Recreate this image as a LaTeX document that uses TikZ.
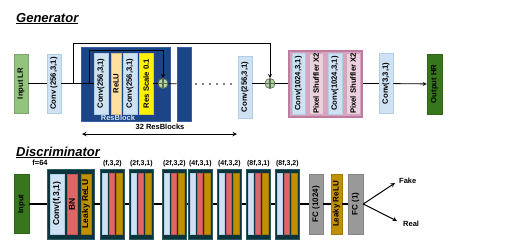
\documentclass[tikz,border=0pt]{standalone}
\usepackage{fontspec}
\setmainfont{Liberation Sans}
\usetikzlibrary{calc}
\definecolor{convblue}{HTML}{CFE2F3}
\definecolor{convedge}{HTML}{B4CDE6}
\definecolor{ingreen}{HTML}{93C47D}
\definecolor{outgreen}{HTML}{38761D}
\definecolor{rbblue}{HTML}{1C4587}
\definecolor{rbedge}{HTML}{3A5F9C}
\definecolor{relucol}{HTML}{FFE0A0}
\definecolor{pinkfill}{HTML}{D5A6BD}
\definecolor{pinkedge}{HTML}{C27BA0}
\definecolor{shufcol}{HTML}{EAD1DC}
\definecolor{plusgreen}{HTML}{B6D7A8}
\definecolor{dteal}{HTML}{0C343D}
\definecolor{dedge}{HTML}{2D5963}
\definecolor{bnred}{HTML}{E06666}
\definecolor{goldcol}{HTML}{BF9000}
\definecolor{fcgray}{HTML}{999999}
\newcommand{\fsz}[1]{\fontsize{#1}{#1}\selectfont\bfseries}

\begin{document}
\begin{tikzpicture}[x=1pt, y=-1pt, >=stealth, font=\fsz{7.5},
  lay/.style={rotate=90, inner sep=0pt, line width=0.5pt, font=\fsz{7.7}},
  conv/.style={lay, fill=convblue, draw=convedge},
  resblk/.style={fill=rbblue, draw=rbedge, line width=0.8pt, inner sep=0pt},
  pinkblk/.style={fill=pinkfill, draw=pinkedge, line width=1.6pt, inner sep=0pt},
  shuf/.style={lay, fill=shufcol, draw=pinkedge!70},
  dblk/.style={fill=dteal, draw=dedge, line width=0.8pt, inner sep=0pt},
  plus/.style={circle, draw=black!50!plusgreen, fill=plusgreen, minimum size=10pt, inner sep=0pt, line width=0.7pt,
    path picture={\draw[line width=1.5pt] (path picture bounding box.north) -- (path picture bounding box.south)
      (path picture bounding box.west) -- (path picture bounding box.east);}},
  gline/.style={line width=0.8pt},
  dline/.style={line width=2.4pt}]
\useasboundingbox (0,0) rectangle (512,244);

% Generator
\node[anchor=base west, inner sep=0pt, font=\fsz{13}\itshape] (gtitle) at (16,22) {\underline{Generator}};
\node[lay, fill=ingreen, draw=ingreen!85!black, minimum width=59, minimum height=14] (inlr) at (21,83.5) {Input LR};
\node[conv, minimum width=59, minimum height=14] (conv1) at (54,83.5) {Conv (256,3,1)};
\node[resblk, minimum width=89, minimum height=74] (rb1) at (125.5,84) {};
\node[inner sep=0pt, text=convblue] (rblab) at (118,117.5) {ResBlock};
\node[conv, minimum width=61, minimum height=14] (rc1) at (101,83.5) {Conv(256,3,1)};
\node[lay, fill=relucol, draw=relucol!85!black, minimum width=61, minimum height=10] (relu) at (116,83.5) {ReLU};
\node[conv, minimum width=61, minimum height=14] (rc2) at (130,83.5) {Conv(256,3,1)};
\node[lay, fill=yellow, draw=yellow!85!black, minimum width=61, minimum height=14] (rscale) at (146,83.5) {Res Scale 0.1};
\node[plus] (add1) at (163,83.5) {};
\node[resblk, minimum width=14, minimum height=74] (rb2) at (184,84) {};
\foreach \x in {196,203,...,231} \fill (\x,84) circle (0.8);
\node[conv, minimum width=62, minimum height=14] (conv2) at (245,87) {Conv(256,3,1)};
\node[plus] (add2) at (270,83.5) {};
\node[pinkblk, minimum width=73, minimum height=66] (up) at (325.5,84) {};
\node[conv, minimum width=61, minimum height=13] (uc1) at (298.5,83.5) {Conv(1024,3,1)};
\node[shuf, minimum width=61, minimum height=14] (ps1) at (316,83.5) {Pixel Shuffler X2};
\node[conv, minimum width=61, minimum height=14] (uc2) at (335,83.5) {Conv(1024,3,1)};
\node[shuf, minimum width=61, minimum height=14] (ps2) at (353,83.5) {Pixel Shuffler X2};
\node[conv, minimum width=60, minimum height=14] (conv3) at (386,83.5) {Conv(3,3,1)};
\node[lay, fill=outgreen, draw=outgreen!85!black, minimum width=60, minimum height=15] (outhr) at (434.5,84) {Output HR};

\coordinate (sk1) at (89,83.5);
\coordinate (sk2) at (73,83.5);
\draw[gline] (inlr) -- (conv1);
\draw[gline] (conv1) -- (rc1);
\draw[gline] (rscale) -- (add1);
\draw[gline] (add1) -- (rb2);
\draw[gline] (conv2.south |- add2) -- (add2);
\draw[gline] (add2) -- (add2 -| up.west);
\draw[gline] (up.east |- conv3) -- (conv3);
\draw[gline, ->] (conv3) -- (outhr);
\draw[gline, ->] (sk1) -- (89,50) -| (add1);
\draw[gline, ->] (sk2) -- (73,43) -| (add2);

\coordinate (nl) at (82,134);
\coordinate (nr) at (237,134);
\draw[line width=1pt, <->] (nl) -- (nr);
\node (nlab) at (160,127) {32 ResBlocks};

% Discriminator
\node[anchor=base west, inner sep=0pt, font=\fsz{13}\itshape] (dtitle) at (16,156) {\underline{Discriminator}};
\node (f64) at (40,163) {f=64};
\node[lay, fill=outgreen, draw=outgreen!85!black, minimum width=59, minimum height=15] (din) at (21.5,204) {Input};
\node[dblk, minimum width=47, minimum height=70] (d0) at (70.5,204) {};
\node[lay, fill=convblue, draw=convedge, minimum width=60, minimum height=14, font=\fsz{8.5}] (d0c) at (57,204) {Conv(f,3,1)};
\node[lay, fill=bnred, draw=bnred!85!black, minimum width=60, minimum height=10, font=\fsz{8.5}] (d0b) at (72,204) {BN};
\node[lay, fill=goldcol, draw=goldcol!85!black, minimum width=60, minimum height=10, font=\fsz{8.5}] (d0r) at (86,204) {Leaky ReLU};
\foreach \x/\lab [count=\i] in {100/{(f,3,2)},129/{(2f,3,1)},162/{(2f,3,2)},188/{(4f,3,1)},217/{(4f,3,2)},246/{(8f,3,1)},275/{(8f,3,2)}} {
  \node[dblk, minimum width=24, minimum height=70, anchor=west] (d\i) at (\x,204) {};
  \node[anchor=south, inner sep=1pt, font=\fsz{7}] (l\i) at (d\i.north) {\lab};
  \node[lay, fill=convblue, draw=convedge, minimum width=61, minimum height=5] (d\i c) at (\x+4.5,204) {};
  \node[lay, fill=bnred, draw=bnred!85!black, minimum width=61, minimum height=5] (d\i b) at (\x+11.5,204) {};
  \node[lay, fill=goldcol, draw=goldcol!85!black, minimum width=61, minimum height=6] (d\i r) at (\x+19,204) {};
}
\node[lay, fill=fcgray, draw=fcgray!85!black, minimum width=60, minimum height=14, font=\fsz{8}] (fc1024) at (316,204) {FC (1024)};
\node[lay, fill=goldcol, draw=goldcol!85!black, minimum width=60, minimum height=11, font=\fsz{8}] (lrelu) at (336.5,204) {Leaky ReLU};
\node[lay, fill=fcgray, draw=fcgray!85!black, minimum width=60, minimum height=15, font=\fsz{8}] (fc1) at (355.5,204) {FC (1)};

\draw[dline] (din) -- (d0);
\draw[dline] (d0) -- (d1);
\foreach \i [evaluate=\i as \j using int(\i+1)] in {1,...,6} \draw[dline] (d\i) -- (d\j);
\draw[dline] (d7) -- (fc1024);
\draw[dline] (fc1024) -- (lrelu);
\draw[dline] (lrelu) -- (fc1);

\coordinate (tf) at (395,183);
\coordinate (tr) at (397,221);
\draw[line width=1pt, ->] (fc1.south) -- (tf);
\draw[line width=1pt, ->] (fc1.south) -- (tr);
\node[anchor=west, inner sep=0pt] (fake) at (399,181) {Fake};
\node[anchor=west, inner sep=0pt] (real) at (403,224) {Real};
\end{tikzpicture}
\end{document}
